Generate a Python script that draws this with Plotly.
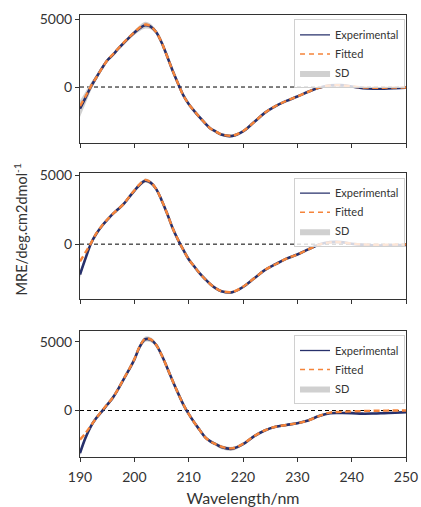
import plotly.graph_objects as go

wavelength = [190, 191, 192, 193, 194, 195, 196, 197, 198, 199, 200, 201, 202, 203, 204, 205, 206, 207, 208,
              209, 210, 211, 212, 213, 214, 215, 216, 218, 220, 222, 224, 226, 228, 230, 232, 234, 236,
              238, 240, 242, 244, 246, 248, 250]

exp1 = [-1600, -800, 20, 700, 1350, 1950, 2350, 2800, 3220, 3620, 4000, 4330, 4550, 4450, 4050, 3300, 2300,
        1250, 300, -600, -1250, -1750, -2220, -2650, -3050, -3280, -3500, -3600, -3270, -2600, -1900, -1400,
        -1020, -700, -350, -50, 120, 140, 40, -80, -120, -120, -90, -50]
fit1 = [-1400, -700, 50, 700, 1350, 1950, 2380, 2820, 3250, 3650, 4030, 4380, 4600, 4470, 4050, 3300, 2300,
        1250, 300, -600, -1250, -1750, -2220, -2650, -3050, -3280, -3480, -3580, -3250, -2600, -1900, -1400,
        -1020, -700, -350, -50, 110, 130, 50, -30, -50, -50, -40, -30]
sd1 = [600, 450, 300, 200, 150, 130, 120, 120, 120, 140, 170, 220, 250, 200, 150, 110, 90, 80, 80, 80,
       80, 80, 90, 100, 100, 110, 110, 120, 100, 80, 80, 70, 70, 70, 70, 70, 70, 70, 60, 60, 60, 60, 60, 60]

exp2 = [-2200, -1050, 30, 750, 1300, 1750, 2170, 2520, 2890, 3380, 3860, 4300, 4590, 4450, 4000, 3200, 2250,
        1210, 350, -400, -1090, -1600, -2100, -2520, -2900, -3200, -3400, -3480, -3100, -2490, -1880, -1450,
        -1050, -750, -380, -20, 150, 150, 30, -50, -90, -100, -80, -50]
fit2 = [-1250, -600, 60, 780, 1320, 1770, 2180, 2530, 2900, 3400, 3890, 4340, 4650, 4470, 4000, 3200, 2250,
        1210, 350, -400, -1090, -1600, -2100, -2520, -2900, -3200, -3390, -3460, -3080, -2490, -1880, -1450,
        -1050, -750, -380, -30, 130, 140, 40, -20, -40, -40, -30, -20]
sd2 = [250, 200, 150, 120, 100, 100, 100, 100, 100, 110, 120, 140, 150, 140, 120, 100, 80, 70, 70, 70,
       70, 70, 70, 80, 80, 90, 90, 100, 90, 70, 70, 60, 60, 60, 60, 60, 60, 60, 50, 50, 50, 50, 50, 50]

exp3 = [-3100, -2000, -1150, -550, -80, 420, 900, 1530, 2250, 2950, 3700, 4640, 5180, 5150, 4780, 4050, 3150,
        2200, 1300, 450, -250, -850, -1400, -1930, -2250, -2450, -2650, -2780, -2450, -1880, -1450, -1180,
        -1050, -920, -720, -400, -200, -180, -190, -230, -220, -190, -160, -120]
fit3 = [-2120, -1650, -1100, -550, -50, 440, 920, 1550, 2270, 2970, 3720, 4660, 5220, 5170, 4780, 4050, 3150,
        2200, 1300, 450, -250, -850, -1400, -1930, -2250, -2450, -2630, -2750, -2420, -1880, -1450, -1180,
        -1050, -920, -720, -400, -150, -100, -60, -40, -20, -10, 0, 0]
sd3 = [200, 180, 150, 130, 120, 120, 120, 120, 120, 130, 150, 180, 200, 180, 150, 120, 100, 90, 90, 90,
       90, 90, 100, 110, 120, 130, 140, 140, 120, 100, 90, 80, 80, 80, 80, 80, 80, 80, 70, 70, 70, 70, 70, 70]

panels = [(exp1, fit1, sd1), (exp2, fit2, sd2), (exp3, fit3, sd3)]
y_ranges = [[-4120, 5300], [-3990, 5170], [-3380, 5800]]
domains = [[0.7104, 1.0], [0.3568, 0.6432], [0.0, 0.2857]]
legend_tops = [0.990, 0.632, 0.276]
x_ticks = [190, 200, 210, 220, 230, 240, 250]
y_ticks = [0, 5000]

EXP_COLOR = "#27306b"
FIT_COLOR = "#f5843a"
SD_COLOR = "rgba(200,200,200,0.85)"
AX_COLOR = "#333333"
FONT = "Lato, Open Sans, sans-serif"

fig = go.Figure()
for i, (e, f, s) in enumerate(panels):
    n = i + 1
    xa = "x" if n == 1 else f"x{n}"
    ya = "y" if n == 1 else f"y{n}"
    lg = "legend" if n == 1 else f"legend{n}"
    lower = [v - d for v, d in zip(e, s)]
    upper = [v + d for v, d in zip(e, s)]
    fig.add_trace(go.Scatter(x=wavelength, y=lower, mode="lines", line=dict(width=0, shape="spline"),
                             showlegend=False, hoverinfo="skip", xaxis=xa, yaxis=ya))
    fig.add_trace(go.Scatter(x=wavelength, y=upper, mode="lines", line=dict(width=0, shape="spline"),
                             fill="tonexty", fillcolor=SD_COLOR, name="SD", legend=lg, legendrank=3,
                             xaxis=xa, yaxis=ya))
    fig.add_trace(go.Scatter(x=wavelength, y=e, mode="lines", name="Experimental",
                             line=dict(color=EXP_COLOR, width=2.6, shape="spline"),
                             showlegend=False, xaxis=xa, yaxis=ya))
    fig.add_trace(go.Scatter(x=wavelength, y=f, mode="lines", name="Fitted",
                             line=dict(color=FIT_COLOR, width=2.4, dash="6px,3.5px", shape="spline"),
                             showlegend=False, xaxis=xa, yaxis=ya))
    # legend-only entries with thin strokes (as in the reference legend)
    fig.add_trace(go.Scatter(x=[None], y=[None], mode="lines", name="Experimental",
                             line=dict(color=EXP_COLOR, width=1.3),
                             legend=lg, legendrank=1, xaxis=xa, yaxis=ya, hoverinfo="skip"))
    fig.add_trace(go.Scatter(x=[None], y=[None], mode="lines", name="Fitted",
                             line=dict(color=FIT_COLOR, width=1.5, dash="5px,4px"),
                             legend=lg, legendrank=2, xaxis=xa, yaxis=ya, hoverinfo="skip"))
    # zero line
    fig.add_shape(type="line", xref=f"{xa} domain", yref=ya, x0=0, x1=1, y0=0, y1=0,
                  line=dict(color="black", width=1, dash="4px,3px"), layer="below")

axis_common = dict(showline=True, mirror=True, linecolor=AX_COLOR, linewidth=1,
                   ticks="outside", ticklen=4, tickcolor=AX_COLOR, showgrid=False, zeroline=False,
                   automargin=False,
                   tickfont=dict(family=FONT, size=14, color=AX_COLOR))

layout = dict(
    width=421, height=507,
    margin=dict(l=80, r=15, t=15, b=50),
    plot_bgcolor="white", paper_bgcolor="white",
    font=dict(family=FONT, color=AX_COLOR),
)
for i in range(3):
    n = i + 1
    xk = "xaxis" if n == 1 else f"xaxis{n}"
    yk = "yaxis" if n == 1 else f"yaxis{n}"
    ya = "y" if n == 1 else f"y{n}"
    xa = "x" if n == 1 else f"x{n}"
    layout[xk] = dict(axis_common, range=[190, 250], tickvals=x_ticks, anchor=ya,
                      showticklabels=(n == 3), domain=[0, 1], ticklabelstandoff=3)
    layout[yk] = dict(axis_common, range=y_ranges[i], tickvals=y_ticks, anchor=xa,
                      domain=domains[i])
    lk = "legend" if n == 1 else f"legend{n}"
    layout[lk] = dict(x=0.997, xanchor="right", y=legend_tops[i], yanchor="top",
                      bgcolor="rgba(255,255,255,0.8)", bordercolor="#d0d0d0", borderwidth=1,
                      font=dict(family=FONT, size=11, color=AX_COLOR),
                      traceorder="normal", itemwidth=30, tracegroupgap=0)

layout["xaxis3"]["title"] = dict(text="Wavelength/nm", font=dict(family=FONT, size=16, color=AX_COLOR), standoff=13)
fig.update_layout(**layout)

fig.add_annotation(text="MRE/deg.cm2dmol<sup>-1</sup>", xref="paper", yref="paper",
                   x=-0.184, y=0.515, textangle=-90, showarrow=False,
                   font=dict(family=FONT, size=14.5, color=AX_COLOR), xanchor="center", yanchor="middle")

fig.write_html("out.html")
